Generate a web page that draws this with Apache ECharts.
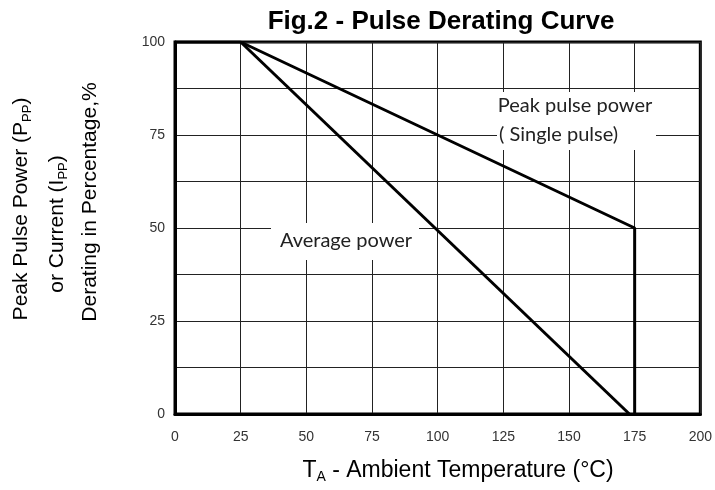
<!DOCTYPE html>
<html lang="en">
<head>
    <meta charset="UTF-8">
    <title>Fig.2 - Pulse Derating Curve</title>
    <script src="https://cdn.jsdelivr.net/npm/echarts@6/dist/echarts.min.js"></script>
    <style>
        html, body { margin: 0; padding: 0; background: #fff; }
        #chart { width: 715px; height: 490px; }
    </style>
</head>
<body>
<div id="chart"></div>
<script>
  // curve points: [temperature °C, derating %]
  var peakPulse = [[0, 100], [25, 100], [175, 50], [175, 0]];
  var averagePower = [[25, 100], [173, 0]];

  var xTicks = [0, 25, 50, 75, 100, 125, 150, 175, 200];
  var yTicks = [0, 25, 50, 75, 100];

  var myChart = echarts.init(document.getElementById('chart'));

  var sans = '"Liberation Sans", Arial, sans-serif';
  var note = 'Lato, "Open Sans", sans-serif';

  var lineStyle = { color: '#000', width: 3 };

  // rich styles for text with subscripts
  function sub(size) {
    return {
      a: { fontFamily: sans, fontSize: size, color: '#222', lineHeight: size + 4 },
      s: { fontFamily: sans, fontSize: Math.round(size * 0.62), color: '#222', lineHeight: Math.round(size * 0.55), verticalAlign: 'bottom' }
    };
  }

  myChart.setOption({
    animation: false,
    title  : {
      text: 'Fig.2 - Pulse Derating Curve',
      left: 436,
      textAlign: 'center',
      top: 4,
      textStyle: { fontFamily: sans, fontSize: 26, fontWeight: 'bold', color: '#000' }
    },
    grid   : {
      left: 175,
      right: 14,
      top: 42,
      bottom: 76,
      show: true,
      borderColor: '#000',
      borderWidth: 3
    },
    xAxis  : {
      type: 'value',
      min: 0,
      max: 200,
      interval: 25,
      axisLine: { show: true, lineStyle: { color: '#000', width: 3 } },
      axisTick: { show: false },
      axisLabel: {
        margin: 16,
        fontFamily: sans, fontSize: 14, color: '#333',
        formatter: function (v) { return xTicks.indexOf(v) >= 0 ? String(v) : ''; }
      },
      splitLine: { show: true, lineStyle: { color: '#222', width: 1 } }
    },
    yAxis  : {
      type: 'value',
      min: 0,
      max: 100,
      interval: 12.5,
      axisLine: { show: true, lineStyle: { color: '#000', width: 3 } },
      axisTick: { show: false },
      axisLabel: {
        margin: 10,
        fontFamily: sans, fontSize: 14, color: '#333',
        formatter: function (v) { return yTicks.indexOf(v) >= 0 ? String(v) : ''; }
      },
      splitLine: { show: true, lineStyle: { color: '#222', width: 1 } }
    },
    graphic: [
      // y axis title, three rotated lines
      {
        type: 'text', x: 21, y: 209, rotation: Math.PI / 2,
        style: { text: '{a|Peak Pulse Power (P}{s|PP}{a|)}', rich: sub(21), align: 'center', verticalAlign: 'middle' }
      },
      {
        type: 'text', x: 57, y: 224, rotation: Math.PI / 2,
        style: { text: '{a|or Current (I}{s|PP}{a|)}', rich: sub(21), align: 'center', verticalAlign: 'middle' }
      },
      {
        type: 'text', x: 90, y: 202, rotation: Math.PI / 2,
        style: { text: '{a|Derating in Percentage,%}', rich: sub(21), align: 'center', verticalAlign: 'middle' }
      },
      // x axis title
      {
        type: 'text', x: 458, y: 471,
        style: { text: '{a|T}{s|A}{a| - Ambient Temperature (°C)}', rich: sub(23), align: 'center', verticalAlign: 'middle' }
      },
      // curve annotations with white boxes over the grid
      {
        type: 'rect', shape: { x: 271, y: 223, width: 148, height: 37 }, style: { fill: '#fff' }, z: 50
      },
      {
        type: 'text', x: 346, y: 241, z: 51,
        style: { text: 'Average power', fontFamily: note, fontSize: 20, fill: '#222', align: 'center', verticalAlign: 'middle' }
      },
      {
        type: 'rect', shape: { x: 497, y: 92, width: 159, height: 58 }, style: { fill: '#fff' }, z: 50
      },
      {
        type: 'text', x: 575, y: 106, z: 51,
        style: { text: 'Peak pulse power', fontFamily: note, fontSize: 20, fill: '#222', align: 'center', verticalAlign: 'middle' }
      },
      {
        type: 'text', x: 499, y: 135, z: 51,
        style: { text: '( Single pulse)', fontFamily: note, fontSize: 20, fill: '#222', align: 'left', verticalAlign: 'middle' }
      }
    ],
    series : [
      {
        name: 'Peak pulse power',
        type: 'line',
        data: peakPulse,
        showSymbol: false,
        lineStyle: lineStyle,
        z: 60
      },
      {
        name: 'Average power',
        type: 'line',
        data: averagePower,
        showSymbol: false,
        lineStyle: lineStyle,
        z: 60
      }
    ]
  });
</script>
</body>
</html>
